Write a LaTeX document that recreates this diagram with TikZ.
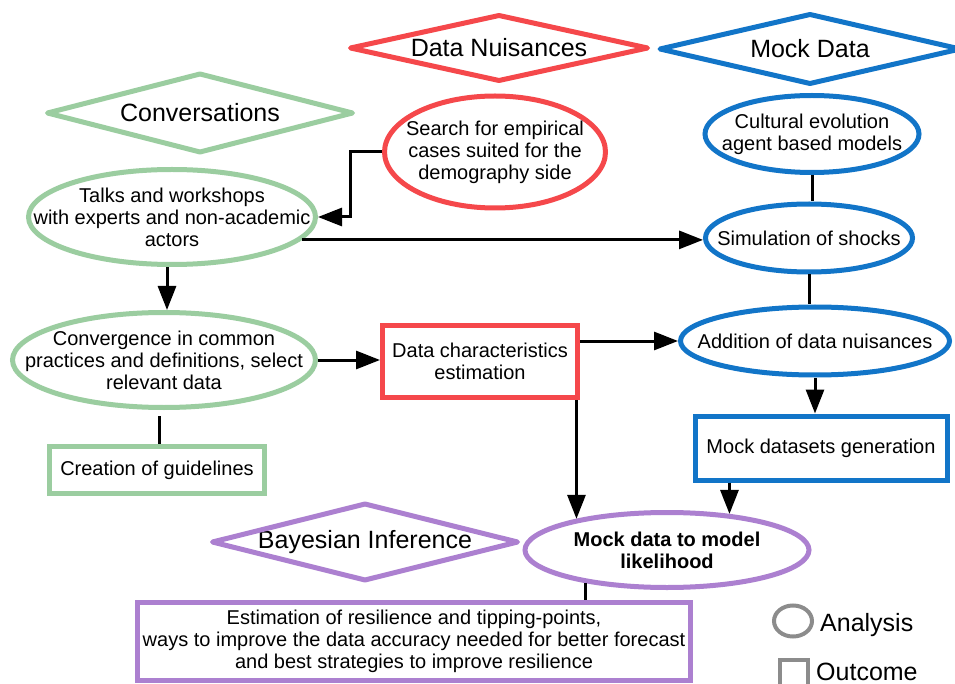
\documentclass[tikz,border=0pt]{standalone}
\usepackage{fontspec}
\setmainfont{Liberation Sans}
\usetikzlibrary{shapes.geometric,arrows.meta}
\definecolor{cgreen}{RGB}{155,205,160}
\definecolor{cred}{RGB}{245,72,75}
\definecolor{cblue}{RGB}{18,117,200}
\definecolor{cpurple}{RGB}{172,128,208}
\definecolor{cgray}{RGB}{140,140,140}
\newcommand\dmd[7]{%
  \node[ttl] (#1) at (#2,#3) {#7};
  \draw[draw=#6, line width=5pt, line join=round] (#2-#4/2,#3) -- (#2,#3-#5/2) -- (#2+#4/2,#3) -- (#2,#3+#5/2) -- cycle;}
\begin{document}
\begin{tikzpicture}[x=1pt,y=-1pt,
  txt/.style={font=\fontsize{20}{22}\selectfont, align=center, inner sep=0pt},
  ttl/.style={font=\fontsize{25}{28}\selectfont, inner sep=0pt},
  ell/.style={ellipse, draw, line width=5pt, inner sep=0pt},
  box/.style={rectangle, draw, line width=5pt, inner sep=0pt},
  arr/.style={line width=3pt, -{Triangle[length=24pt,width=18pt]}},
  ln/.style={line width=3pt},
]
\fill[white] (0,0) rectangle (955,684);
\useasboundingbox (0,0) rectangle (955,684);
\clip (0,0) rectangle (955,684);

% diamonds
\dmd{nuis}{499}{48}{297}{65}{cred}{Data Nuisances}
\dmd{mock}{810}{49}{300}{69}{cblue}{Mock Data}
\dmd{convd}{200}{113}{305}{78}{cgreen}{Conversations}
\dmd{bayes}{365}{542}{305}{76}{cpurple}{Bayesian Inference}

% analysis ellipses
\node[ell, draw=cgreen, minimum width=287pt, minimum height=95pt] (talks) at (172,217) {};
\node[txt] (talksT) at (talks) {Talks and workshops\\with experts and non-academic\\actors};
\node[ell, draw=cred, minimum width=221pt, minimum height=112pt] (search) at (495,152) {};
\node[txt] (searchT) at (search) {Search for empirical\\cases suited for the\\demography side};
\node[ell, draw=cblue, minimum width=214pt, minimum height=77pt] (cult) at (812,134) {};
\node[txt] (cultT) at (cult) {Cultural evolution\\agent based models};
\node[ell, draw=cblue, minimum width=207pt, minimum height=68pt] (sim) at (809,238) {};
\node[txt] (simT) at (sim) {Simulation of shocks};
\node[ell, draw=cblue, minimum width=269pt, minimum height=68pt] (add) at (815,341) {};
\node[txt] (addT) at (add) {Addition of data nuisances};
\node[ell, draw=cgreen, minimum width=303pt, minimum height=95pt] (convg) at (164,360) {};
\node[txt] (convgT) at (convg) {Convergence in common\\practices and definitions, select\\relevant data};
\node[ell, draw=cpurple, minimum width=284pt, minimum height=75pt] (lik) at (667,550) {};
\node[txt, font=\fontsize{20}{22}\selectfont\bfseries] (likT) at (lik) {Mock data to model\\likelihood};

% outcome boxes
\node[box, draw=cblue, minimum width=252pt, minimum height=64pt] (mockgen) at (821,448) {};
\node[txt] (mockgenT) at (mockgen) {Mock datasets generation};
\node[box, draw=cred, minimum width=195pt, minimum height=72pt] (datachar) at (480,361.5) {};
\node[txt] (datacharT) at (datachar) {Data characteristics\\estimation};
\node[box, draw=cgreen, minimum width=215pt, minimum height=47pt] (guide) at (157,470) {};
\node[txt] (guideT) at (guide) {Creation of guidelines};
\node[box, draw=cpurple, minimum width=553pt, minimum height=78pt] (est) at (414,641.5) {};
\node[txt] (estT) at (est) {Estimation of resilience and tipping-points,\\ways to improve the data accuracy needed for better forecast\\and best strategies to improve resilience};

% legend
\node[ellipse, draw=cgray, line width=4pt, minimum width=38pt, minimum height=31pt, inner sep=0pt] (legE) at (793,621) {};
\node[ttl, anchor=west] (legEt) at (820,625) {Analysis};
\node[rectangle, draw=cgray, line width=4pt, minimum size=28pt, inner sep=0pt] (legR) at (794,674) {};
\node[ttl, anchor=west] (legRt) at (816,672) {Outcome};

% connectors
\draw[arr] (search.west) -- ++(-32,0) |- (talks.east);
\draw[arr] (talks.-10) -- (talks.-10 -| sim.west);
\draw[ln] (cult.south) -- (cult.south |- sim.north);
\draw[ln] (sim.south) -- (sim.south |- add.north);
\draw[arr] (add.south) -- (add.south |- mockgen.north);
\draw[arr] (mockgen.south -| lik.30) -- (lik.30);
\draw[arr] (datachar.south -| lik.161) -- (lik.161);
\draw[arr] (datachar.east |- add.west) -- (add.west);
\draw[arr] (convg.east) -- (convg.east -| datachar.west);
\draw[arr] ([xshift=-5pt]talks.south) -- ([xshift=-5pt]talks.south |- convg.north);
\draw[ln, shorten <=6pt] ([xshift=-5pt]convg.south) -- ([xshift=-5pt]convg.south |- guide.north);
\draw[ln] (lik.-158) -- (lik.-158 |- est.north);
\end{tikzpicture}
\end{document}
